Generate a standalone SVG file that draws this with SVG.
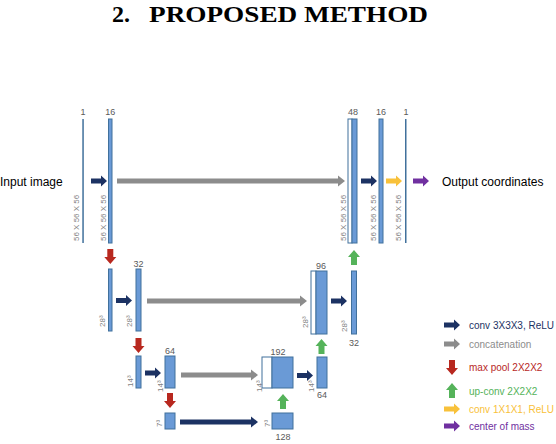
<svg xmlns="http://www.w3.org/2000/svg" xmlns:xlink="http://www.w3.org/1999/xlink" width="556" height="444" viewBox="0 0 556 444">
<style>
.bar{fill:#6a9ad6;stroke:#41719c;stroke-width:1}
.wb{fill:#ffffff;stroke:#41719c;stroke-width:1}
.ln{fill:#41719c}
.num{font-family:"Liberation Sans",Arial,sans-serif;font-size:9px;fill:#595959;text-anchor:middle}
.dim{font-family:"Liberation Sans",Arial,sans-serif;font-size:8px;fill:#7f7f7f}
.lbl{font-family:"Liberation Sans",Arial,sans-serif;font-size:12px;fill:#000}
.leg{font-family:"Liberation Sans",Arial,sans-serif;font-size:10px}
.navy{fill:#1c3263}
.gray{fill:#8c8c8c}
.red{fill:#b8281f}
.green{fill:#55b35a}
.yellow{fill:#f8c13a}
.purple{fill:#7030a0}
</style>
<defs>
<path id="ar" d="M0,-2.5 H10 V-5.5 L16,0 L10,5.5 V2.5 H0 Z"/>
<path id="ad" d="M-3,0 H3 V8 H6 L0,15 L-6,8 H-3 Z"/>
<path id="au" d="M-3,15 H3 V7 H6 L0,0 L-6,7 H-3 Z"/>
</defs>
<text x="112" y="21.5" style="font-family:'Liberation Serif','Times New Roman',serif;font-size:24px;font-weight:bold;fill:#000">2.<tspan x="149" textLength="279" lengthAdjust="spacingAndGlyphs">PROPOSED METHOD</tspan></text>

<g id="input-label"><text class="lbl" x="0" y="186">Input image</text></g>
<g id="output-label"><text class="lbl" x="442" y="186">Output coordinates</text></g>

<g id="l1-in">
<rect class="ln" x="82.3" y="119" width="1.5" height="124"/>
<text class="num" x="83" y="115">1</text>
<text class="dim" x="78.9" y="241" transform="rotate(-90 78.9 241)">56 X 56 X 56</text>
</g>
<g id="l1-c16">
<rect class="bar" x="108.5" y="119" width="3.5" height="124"/>
<text class="num" x="110.3" y="115">16</text>
<text class="dim" x="105.9" y="241" transform="rotate(-90 105.9 241)">56 X 56 X 56</text>
</g>
<g id="l2-pool">
<rect class="bar" x="108.5" y="269" width="3.5" height="62"/>
<text class="dim" x="104.9" y="327" transform="rotate(-90 104.9 327)">28³</text>
</g>
<g id="l2-c32">
<rect class="bar" x="136" y="269" width="5" height="62"/>
<text class="num" x="138.5" y="267">32</text>
<text class="dim" x="131.9" y="327" transform="rotate(-90 131.9 327)">28³</text>
</g>
<g id="l3-pool">
<rect class="bar" x="136" y="356" width="5" height="32"/>
<text class="dim" x="132.9" y="387" transform="rotate(-90 132.9 387)">14³</text>
</g>
<g id="l3-c64">
<rect class="bar" x="165" y="356" width="10" height="32"/>
<text class="num" x="170" y="354">64</text>
<text class="dim" x="162.9" y="392" transform="rotate(-90 162.9 392)">14³</text>
</g>
<g id="l4-pool">
<rect class="bar" x="165" y="413" width="10" height="16"/>
<text class="dim" x="161.9" y="427" transform="rotate(-90 161.9 427)">7³</text>
</g>
<g id="l4-c128">
<rect class="bar" x="272" y="413" width="21" height="16"/>
<text class="num" x="283" y="440">128</text>
<text class="dim" x="269.9" y="427" transform="rotate(-90 269.9 427)">7³</text>
</g>
<g id="l3-cat192">
<rect class="wb" x="262" y="357" width="10" height="31"/>
<rect class="bar" x="272" y="357" width="21" height="31"/>
<text class="num" x="278" y="355">192</text>
<text class="dim" x="261.9" y="392" transform="rotate(-90 261.9 392)">14³</text>
</g>
<g id="l3-c64r">
<rect class="bar" x="317" y="357" width="10" height="31"/>
<text class="num" x="322" y="398">64</text>
<text class="dim" x="313.9" y="392" transform="rotate(-90 313.9 392)">14³</text>
</g>
<g id="l2-cat96">
<rect class="wb" x="311" y="271" width="5" height="63"/>
<rect class="bar" x="316" y="271" width="11" height="63"/>
<text class="num" x="321" y="269">96</text>
<text class="dim" x="307.9" y="328" transform="rotate(-90 307.9 328)">28³</text>
</g>
<g id="l2-c32r">
<rect class="bar" x="351.5" y="271" width="5" height="63"/>
<text class="num" x="354" y="346">32</text>
<text class="dim" x="346.9" y="332" transform="rotate(-90 346.9 332)">28³</text>
</g>
<g id="l1-cat48">
<rect class="wb" x="348" y="119" width="4" height="124"/>
<rect class="bar" x="352" y="119" width="5" height="124"/>
<text class="num" x="353" y="115">48</text>
<text class="dim" x="345.9" y="241" transform="rotate(-90 345.9 241)">56 X 56 X 56</text>
</g>
<g id="l1-c16r">
<rect class="bar" x="379" y="119" width="4" height="124"/>
<text class="num" x="381" y="115">16</text>
<text class="dim" x="375.9" y="241" transform="rotate(-90 375.9 241)">56 X 56 X 56</text>
</g>
<g id="l1-out">
<rect class="ln" x="405" y="119" width="1.5" height="124"/>
<text class="num" x="406" y="115">1</text>
<text class="dim" x="400.9" y="241" transform="rotate(-90 400.9 241)">56 X 56 X 56</text>
</g>

<g id="connectors">
<use xlink:href="#ar" x="91" y="181" class="navy"/>
<path class="gray" d="M117,178.5 H338 V175.5 L345,181 L338,186.5 V183.5 H117 Z"/>
<use xlink:href="#ar" x="361" y="181" class="navy"/>
<use xlink:href="#ar" x="386" y="181" class="yellow"/>
<use xlink:href="#ar" x="413" y="181" class="purple"/>
<use xlink:href="#ad" x="110.3" y="249" class="red"/>
<use xlink:href="#ar" x="116" y="300.5" class="navy"/>
<path class="gray" d="M147,298.5 H300 V295.5 L307,301 L300,306.5 V303.5 H147 Z"/>
<use xlink:href="#ar" x="331" y="301" class="navy"/>
<use xlink:href="#au" x="354" y="250" class="green"/>
<use xlink:href="#ad" x="138.5" y="338" class="red"/>
<use xlink:href="#ar" x="145" y="373" class="navy"/>
<path class="gray" d="M181,372.5 H251 V369.5 L258,375 L251,380.5 V377.5 H181 Z"/>
<use xlink:href="#ar" x="297" y="375.5" class="navy"/>
<use xlink:href="#au" x="321.5" y="339" class="green"/>
<use xlink:href="#ad" x="170" y="393" class="red"/>
<path class="navy" d="M180,419.5 H251 V416.5 L258,422 L251,427.5 V424.5 H180 Z"/>
<use xlink:href="#au" x="283" y="394" class="green"/>
</g>

<g id="legend">
<use xlink:href="#ar" x="444" y="325" class="navy"/>
<text class="leg navy" x="469" y="328.5">conv 3X3X3, ReLU</text>
<use xlink:href="#ar" x="444" y="344" class="gray"/>
<text class="leg gray" x="469" y="347.5">concatenation</text>
<use xlink:href="#ad" x="452" y="360" class="red"/>
<text class="leg red" x="469" y="370.5">max pool 2X2X2</text>
<use xlink:href="#au" x="452" y="383" class="green"/>
<text class="leg green" x="469" y="394.5">up-conv 2X2X2</text>
<use xlink:href="#ar" x="444" y="409" class="yellow"/>
<text class="leg yellow" x="469" y="412.5">conv 1X1X1, ReLU</text>
<use xlink:href="#ar" x="444" y="426" class="purple"/>
<text class="leg purple" x="469" y="429.5">center of mass</text>
</g>
</svg>
